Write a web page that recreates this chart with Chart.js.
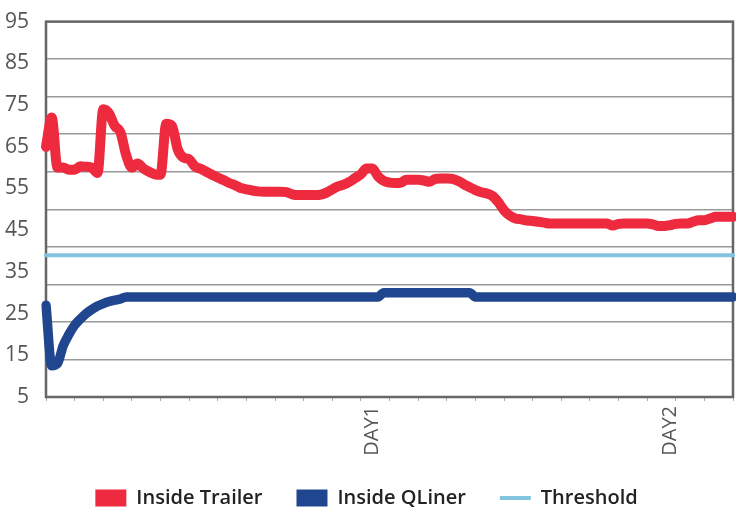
<!DOCTYPE html>
<html>
<head>
<meta charset="utf-8">
<script src="https://cdn.jsdelivr.net/npm/chart.js@4/dist/chart.umd.min.js"></script>
<style>
  html, body { margin: 0; padding: 0; background: #fff; }
  #wrap { width: 736px; height: 511px; }
</style>
</head>
<body>
<div id="wrap"><canvas id="main-graph"></canvas></div>
<script>
// readings, one every ~1/10 of a day
const insideTrailer = [
  65, 72, 60, 60, 59.5, 59.5, 60.3, 60.2, 60, 58.7,
  74, 73, 70, 68.5, 63, 60, 61, 59.8, 59, 58.4,
  58.3, 70.5, 70, 64.4, 62.4, 62, 60.3, 59.7, 59, 58.3,
  57.6, 57, 56.3, 55.8, 55.1, 54.8, 54.5, 54.3, 54.2, 54.2,
  54.2, 54.2, 54.1, 53.6, 53.4, 53.4, 53.4, 53.4, 53.5, 54,
  54.8, 55.5, 55.9, 56.6, 57.5, 58.4, 59.8, 59.8, 57.9, 56.8,
  56.4, 56.3, 56.4, 57.1, 57.1, 57.1, 56.9, 56.6, 57.3, 57.4,
  57.4, 57.3, 56.8, 56, 55.3, 54.6, 54.1, 53.8, 53.2, 51.7,
  49.8, 48.5, 47.8, 47.6, 47.3, 47.2, 47, 46.8, 46.6, 46.6,
  46.6, 46.6, 46.6, 46.6, 46.6, 46.6, 46.6, 46.6, 46.6, 46.1,
  46.5, 46.6, 46.6, 46.6, 46.6, 46.6, 46.4, 46, 46, 46.2,
  46.5, 46.6, 46.6, 47, 47.4, 47.4, 47.8, 48.2, 48.2, 48.2,
  48.2,
];

const insideQLiner = [
  27, 12.5, 13, 17.3, 20, 22.2, 23.7, 25, 26, 26.8,
  27.4, 27.9, 28.2, 28.5, 29, 29, 29, 29, 29, 29,
  29, 29, 29, 29, 29, 29, 29, 29, 29, 29,
  29, 29, 29, 29, 29, 29, 29, 29, 29, 29,
  29, 29, 29, 29, 29, 29, 29, 29, 29, 29,
  29, 29, 29, 29, 29, 29, 29, 29, 29, 30,
  30, 30, 30, 30, 30, 30, 30, 30, 30, 30,
  30, 30, 30, 30, 30, 29, 29, 29, 29, 29,
  29, 29, 29, 29, 29, 29, 29, 29, 29, 29,
  29, 29, 29, 29, 29, 29, 29, 29, 29, 29,
  29, 29, 29, 29, 29, 29, 29, 29, 29, 29,
  29, 29, 29, 29, 29, 29, 29, 29, 29, 29,
  29,
];

const threshold = 39;

const dayLabels = ["DAY1", "DAY2"];
const dayAt = [57, 109];

const yTicks = [5, 15, 25, 35, 45, 55, 65, 75, 85, 95];

const labels = insideTrailer.map((_, i) => {
  const k = dayAt.indexOf(i);
  return k >= 0 ? dayLabels[k] : "";
});

const legendLabels = (chart) => {
  const items = Chart.defaults.plugins.legend.labels.generateLabels(chart);
  items.forEach((it) => {
    if (it.pointStyle === "rect") it.lineWidth = 0;
  });
  return items;
};

const frame = {
  id: "frame",
  beforeDatasetsDraw(chart) {
    const { ctx, chartArea: a } = chart;
    ctx.save();
    ctx.strokeStyle = "#666";
    ctx.lineWidth = 2.5;
    ctx.strokeRect(a.left, a.top, a.right - a.left, a.bottom - a.top);
    ctx.restore();
  },
};

const ctx = document.getElementById("main-graph");

new Chart(ctx, {
  type: "line",
  data: {
    labels: labels,
    datasets: [
      {
        label: "Inside Trailer",
        data: insideTrailer,
        borderColor: "#EE2A3F",
        backgroundColor: "#EE2A3F",
        borderWidth: 10,
        pointStyle: "rect",
      },
      {
        label: "Inside QLiner",
        data: insideQLiner,
        borderColor: "#1F468F",
        backgroundColor: "#1F468F",
        borderWidth: 9.5,
        pointStyle: "rect",
      },
      {
        label: "Threshold",
        data: labels.map(() => threshold),
        borderColor: "#82C4E0",
        backgroundColor: "#82C4E0",
        borderWidth: 4,
        pointStyle: "line",
      },
    ],
  },
  options: {
    responsive: true,
    maintainAspectRatio: false,
    animation: false,
    events: [],
    layout: { padding: { top: 21, right: 3, bottom: -7, left: 0 } },
    elements: {
      point: { radius: 0, hoverRadius: 0 },
      line: {
        cubicInterpolationMode: "monotone",
        borderJoinStyle: "round",
        borderCapStyle: "round",
        fill: false,
      },
    },
    scales: {
      x: {
        offset: false,
        afterFit: (s) => {
          s.height = 57;
          s.paddingLeft = 0;
          s.paddingRight = 0;
        },
        border: { display: false },
        grid: {
          drawOnChartArea: false,
          offset: false,
          tickLength: 4,
          tickColor: (c) => (c.index % 5 === 0 ? "#aaa" : "rgba(0,0,0,0)"),
        },
        ticks: {
          autoSkip: false,
          minRotation: 90,
          maxRotation: 90,
          padding: 5,
          color: "#555",
          font: { family: "Open Sans", size: 20 },
        },
      },
      y: {
        position: "left",
        min: 5,
        max: 95,
        afterFit: (s) => { s.width = 46; },
        afterBuildTicks: (s) => { s.ticks = yTicks.map((v) => ({ value: v })); },
        border: { display: false },
        grid: { display: false },
        ticks: {
          padding: 9,
          color: "#555",
          font: { family: "Open Sans", size: 21 },
        },
      },
      yGrid: {
        position: "left",
        min: 5,
        max: 95,
        afterFit: (s) => { s.width = 0; },
        afterBuildTicks: (s) => {
          const t = [];
          for (let k = 0; k <= 10; k++) t.push({ value: 5 + k * 9 });
          s.ticks = t;
        },
        border: { display: false },
        grid: { color: "#9a9a9a", lineWidth: 1.5, tickLength: 0 },
        ticks: { display: false },
      },
    },
    plugins: {
      tooltip: { enabled: false },
      legend: {
        position: "bottom",
        labels: {
          usePointStyle: true,
          pointStyleWidth: 31,
          boxHeight: 17,
          padding: 34,
          color: "#222",
          font: { family: "Open Sans", size: 20, weight: "600" },
          generateLabels: legendLabels,
        },
      },
    },
  },
  plugins: [frame],
});
</script>
</body>
</html>
